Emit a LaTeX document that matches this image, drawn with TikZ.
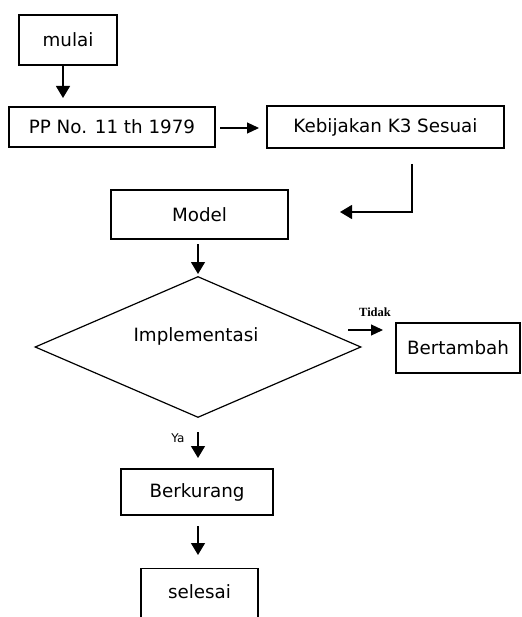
\documentclass[tikz,border=0pt]{standalone}
\usepackage{fontspec}
\setmainfont{DejaVu Sans}
\newfontfamily\serifb{Liberation Serif}
\usetikzlibrary{arrows.meta,shapes.geometric}
\begin{document}
\begin{tikzpicture}[x=1pt,y=-1pt,
  box/.style={draw,line width=1.2pt,inner sep=0pt,font=\fontsize{18.3}{20}\selectfont},
  conn/.style={line width=1.2pt,-{Triangle[length=12pt,width=14pt]}},
  plain/.style={line width=1.2pt}]
\useasboundingbox (0,0) rectangle (521,617);
\clip (0,0) rectangle (521,617);
\node[box,minimum width=98pt,minimum height=50pt] (mulai) at (68,40) {mulai};
\node[box,minimum width=206pt,minimum height=40pt] (pp) at (112,127) {PP No. 11 th 1979};
\node[box,minimum width=237pt,minimum height=42pt] (keb) at (385.5,127) {Kebijakan K3 Sesuai};
\node[box,minimum width=177pt,minimum height=49pt] (model) at (199.5,214.5) {Model};
\node[draw,line width=1.2pt,diamond,aspect=2.31,inner sep=0pt,minimum width=326pt,minimum height=141pt] (impl) at (198,347) {};
\node[font=\fontsize{18.3}{20}\selectfont] (impltext) at (196,336) {Implementasi};
\node[box,minimum width=124pt,minimum height=50pt] (bert) at (458,348) {Bertambah};
\node[box,minimum width=152pt,minimum height=46pt] (berk) at (197,492) {Berkurang};
\node[box,minimum width=117pt,minimum height=70pt,anchor=north] (sel) at (199.5,568) {};
\node[font=\fontsize{18.3}{20}\selectfont] (seltext) at (199.5,592) {selesai};
\node[font=\serifb\bfseries\fontsize{12.5}{14}\selectfont] (tidak) at (375,312) {Tidak};
\node[font=\fontsize{12}{14}\selectfont] (ya) at (178,438) {Ya};
% connectors
\coordinate (a1) at (63,66);
\coordinate (a2) at (63,98);
\draw[conn] (a1) -- (a2);
\coordinate (b1) at (220,128);
\coordinate (b2) at (259,128);
\draw[conn,-{Triangle[length=12pt,width=11pt]}] (b1) -- (b2);
\coordinate (c1) at (412,164);
\coordinate (c2) at (412,212);
\coordinate (c3) at (340,212);
\draw[conn] (c1) -- (c2) -- (c3);
\coordinate (m1) at (198,244);
\coordinate (m2) at (198,274);
\draw[conn] (m1) -- (m2);
\coordinate (d1) at (348,330);
\coordinate (d2) at (383,330);
\draw[conn,-{Triangle[length=12pt,width=11pt]}] (d1) -- (d2);
\coordinate (e1) at (198,432);
\coordinate (e2) at (198,458);
\draw[conn] (e1) -- (e2);
\coordinate (f1) at (198,526);
\coordinate (f2) at (198,555);
\draw[conn] (f1) -- (f2);
\end{tikzpicture}
\end{document}
